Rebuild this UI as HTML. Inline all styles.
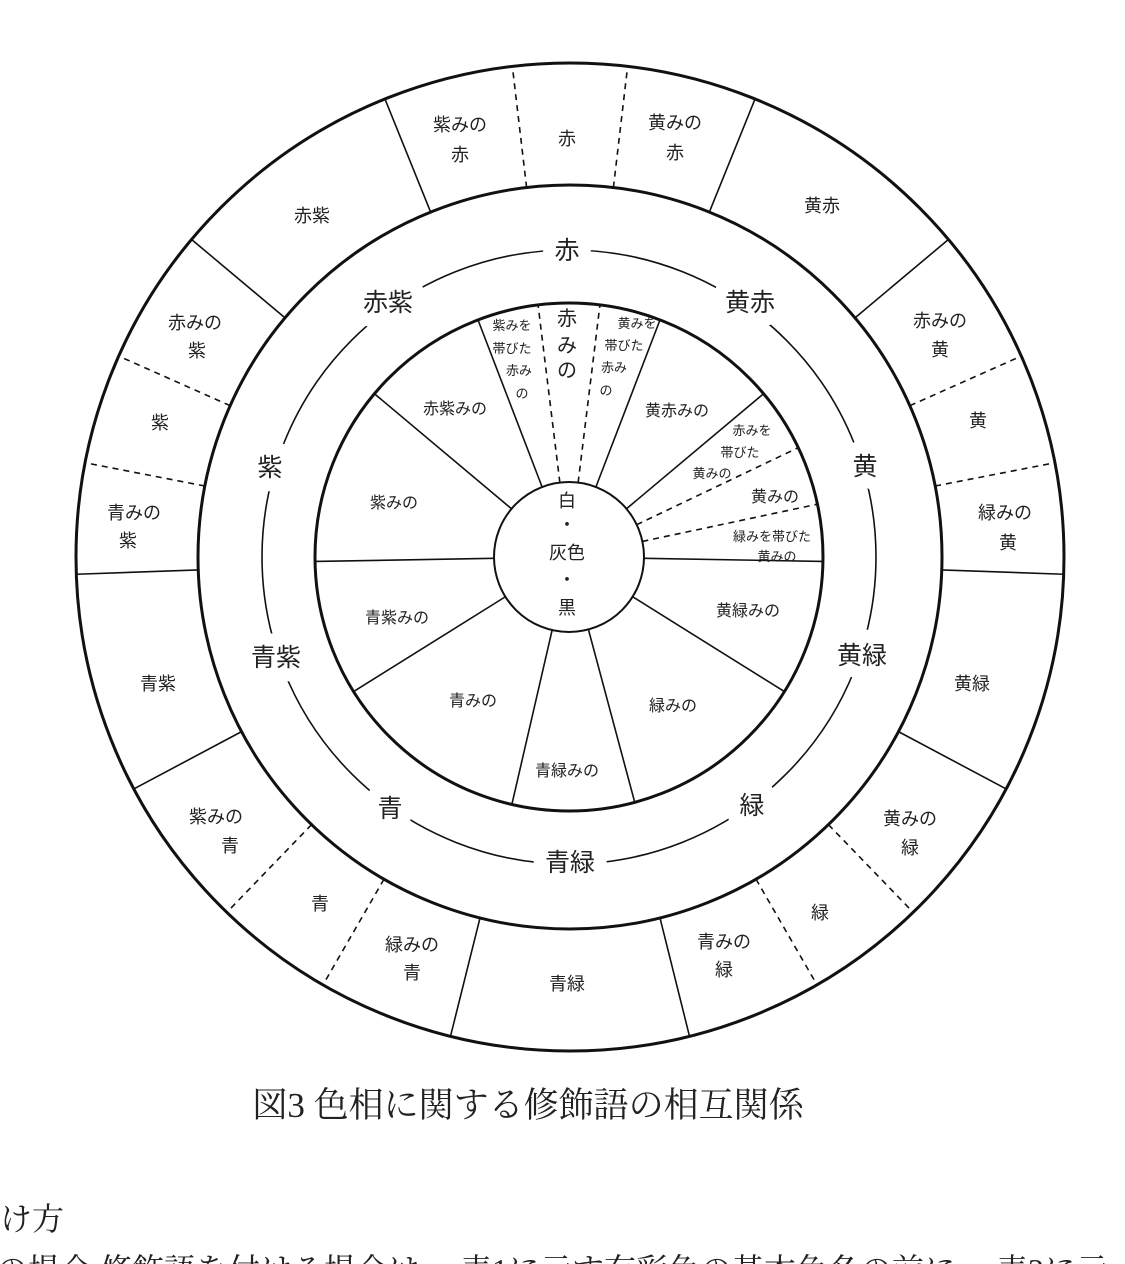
<!DOCTYPE html>
<html><head><meta charset="utf-8"><style>
html,body{margin:0;padding:0;background:#fff;}
svg{display:block;}
text{font-family:"Liberation Sans","Noto Sans CJK JP",sans-serif;fill:#222;text-anchor:middle;}
.o{font-size:18px;}
.m{font-size:25px;paint-order:stroke;stroke:#fff;stroke-width:26px;stroke-linejoin:round;}
.i{font-size:16px;}
.s{font-size:13px;}
.d{stroke-dasharray:6 5;}
</style></head><body>
<svg width="1125" height="1264" viewBox="0 0 1125 1264">
<rect width="1125" height="1264" fill="#fff"/>
<g fill="none" stroke="#111">
<circle cx="570" cy="557" r="494" stroke-width="3"/>
<circle cx="570" cy="557" r="372" stroke-width="3"/>
<circle cx="569" cy="557" r="307" stroke-width="1.6"/>
<circle cx="569" cy="557" r="254" stroke-width="3"/>
<circle cx="569" cy="557" r="75" stroke-width="2"/>
</g>
<g stroke="#111" stroke-width="1.6">
<line x1="570" y1="185" x2="570" y2="63" transform="rotate(22 570 557)"/>
<line x1="570" y1="185" x2="570" y2="63" transform="rotate(-22 570 557)"/>
<line x1="570" y1="185" x2="570" y2="63" transform="rotate(50 570 557)"/>
<line x1="570" y1="185" x2="570" y2="63" transform="rotate(-50 570 557)"/>
<line x1="570" y1="185" x2="570" y2="63" transform="rotate(92 570 557)"/>
<line x1="570" y1="185" x2="570" y2="63" transform="rotate(-92 570 557)"/>
<line x1="570" y1="185" x2="570" y2="63" transform="rotate(118 570 557)"/>
<line x1="570" y1="185" x2="570" y2="63" transform="rotate(-118 570 557)"/>
<line x1="570" y1="185" x2="570" y2="63" transform="rotate(166 570 557)"/>
<line x1="570" y1="185" x2="570" y2="63" transform="rotate(-166 570 557)"/>
<g class="d">
<line x1="570" y1="185" x2="570" y2="63" transform="rotate(6.7 570 557)"/>
<line x1="570" y1="185" x2="570" y2="63" transform="rotate(-6.7 570 557)"/>
<line x1="570" y1="185" x2="570" y2="63" transform="rotate(66 570 557)"/>
<line x1="570" y1="185" x2="570" y2="63" transform="rotate(-66 570 557)"/>
<line x1="570" y1="185" x2="570" y2="63" transform="rotate(79 570 557)"/>
<line x1="570" y1="185" x2="570" y2="63" transform="rotate(-79 570 557)"/>
<line x1="570" y1="185" x2="570" y2="63" transform="rotate(136 570 557)"/>
<line x1="570" y1="185" x2="570" y2="63" transform="rotate(-136 570 557)"/>
<line x1="570" y1="185" x2="570" y2="63" transform="rotate(150 570 557)"/>
<line x1="570" y1="185" x2="570" y2="63" transform="rotate(-150 570 557)"/>
</g>
<line x1="569" y1="482" x2="569" y2="303" transform="rotate(21 569 557)"/>
<line x1="569" y1="482" x2="569" y2="303" transform="rotate(-21 569 557)"/>
<line x1="569" y1="482" x2="569" y2="303" transform="rotate(50 569 557)"/>
<line x1="569" y1="482" x2="569" y2="303" transform="rotate(-50 569 557)"/>
<line x1="569" y1="482" x2="569" y2="303" transform="rotate(91 569 557)"/>
<line x1="569" y1="482" x2="569" y2="303" transform="rotate(-91 569 557)"/>
<line x1="569" y1="482" x2="569" y2="303" transform="rotate(122 569 557)"/>
<line x1="569" y1="482" x2="569" y2="303" transform="rotate(-122 569 557)"/>
<line x1="569" y1="482" x2="569" y2="303" transform="rotate(165 569 557)"/>
<line x1="569" y1="482" x2="569" y2="303" transform="rotate(-167 569 557)"/>
<g class="d">
<line x1="569" y1="482" x2="569" y2="303" transform="rotate(7 569 557)"/>
<line x1="569" y1="482" x2="569" y2="303" transform="rotate(-7 569 557)"/>
<line x1="569" y1="482" x2="569" y2="303" transform="rotate(64.5 569 557)"/>
<line x1="569" y1="482" x2="569" y2="303" transform="rotate(78 569 557)"/>
</g>
</g>
<g class="o">
<text x="460" y="131">紫みの</text><text x="460" y="161">赤</text>
<text x="567" y="145">赤</text>
<text x="675" y="129">黄みの</text><text x="675" y="159">赤</text>
<text x="312" y="222">赤紫</text>
<text x="822" y="212">黄赤</text>
<text x="195" y="329">赤みの</text><text x="197" y="357">紫</text>
<text x="160" y="429">紫</text>
<text x="134" y="519">青みの</text><text x="128" y="547">紫</text>
<text x="158" y="690">青紫</text>
<text x="216" y="823">紫みの</text><text x="230" y="852">青</text>
<text x="320" y="910">青</text>
<text x="412" y="951">緑みの</text><text x="412" y="979">青</text>
<text x="567" y="990">青緑</text>
<text x="724" y="948">青みの</text><text x="724" y="976">緑</text>
<text x="820" y="919">緑</text>
<text x="910" y="825">黄みの</text><text x="910" y="854">緑</text>
<text x="972" y="690">黄緑</text>
<text x="1005" y="519">緑みの</text><text x="1008" y="549">黄</text>
<text x="978" y="427">黄</text>
<text x="940" y="327">赤みの</text><text x="940" y="356">黄</text>
</g>
<g class="m">
<text x="567" y="259">赤</text>
<text x="750" y="311">黄赤</text>
<text x="865" y="475">黄</text>
<text x="862" y="664">黄緑</text>
<text x="752" y="814">緑</text>
<text x="570" y="871">青緑</text>
<text x="390" y="817">青</text>
<text x="276" y="666">青紫</text>
<text x="270" y="476">紫</text>
<text x="388" y="311">赤紫</text>
</g>
<g class="i">
<text x="455" y="414">赤紫みの</text>
<text x="394" y="508">紫みの</text>
<text x="397" y="623">青紫みの</text>
<text x="473" y="706">青みの</text>
<text x="567" y="776">青緑みの</text>
<text x="673" y="711">緑みの</text>
<text x="748" y="616">黄緑みの</text>
<text x="677" y="416">黄赤みの</text>
<text x="775" y="502">黄みの</text>
</g>
<g style="font-size:20px">
<text x="567" y="325">赤</text><text x="567" y="352">み</text><text x="567" y="377">の</text>
</g>
<g class="s">
<text x="512" y="330">紫みを</text><text x="512" y="353">帯びた</text><text x="519" y="375">赤み</text><text x="522" y="398">の</text>
<text x="637" y="328">黄みを</text><text x="624" y="350">帯びた</text><text x="614" y="372">赤み</text><text x="606" y="395">の</text>
<text x="752" y="435">赤みを</text><text x="740" y="457">帯びた</text><text x="712" y="478">黄みの</text>
<text x="772" y="541">緑みを帯びた</text><text x="777" y="561">黄みの</text>
</g>
<g style="font-size:18px">
<text x="567" y="507">白</text><text x="567" y="531">・</text><text x="567" y="559">灰色</text><text x="567" y="586">・</text><text x="567" y="614">黒</text>
</g>
<text x="528" y="1117" style="font-family:'Liberation Serif','Noto Serif CJK JP',serif;font-size:35px;">図3 色相に関する修飾語の相互関係</text>
<text x="0" y="1230" style="font-family:'Liberation Serif','Noto Serif CJK JP',serif;font-size:32px;text-anchor:start;">け方</text>
<text x="-4" y="1281" style="font-family:'Liberation Serif','Noto Serif CJK JP',serif;font-size:32px;text-anchor:start;">の場合 修飾語を付ける場合は、 表1に示す有彩色の基本色名の前に、 表2に示</text>
</svg>
</body></html>
